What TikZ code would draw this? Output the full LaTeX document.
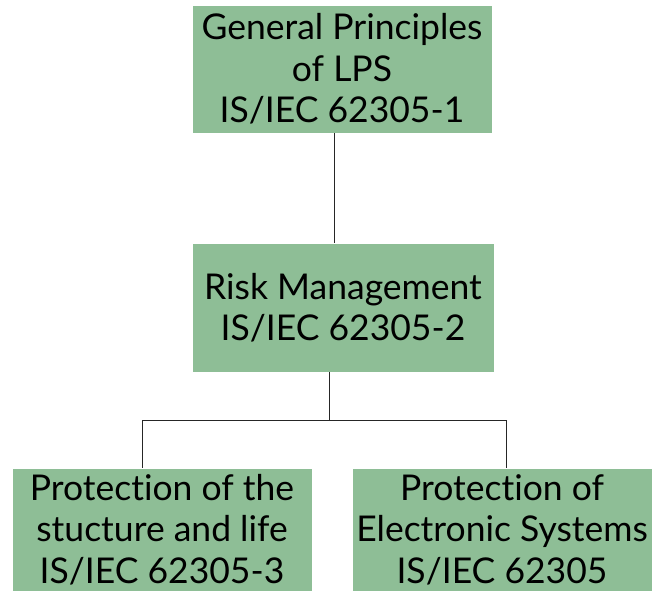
\documentclass[tikz,border=0pt]{standalone}
\usepackage{fontspec}
\setmainfont{Lato}[Ligatures=NoCommon]
\definecolor{lpsgreen}{RGB}{142,190,150}

\begin{document}
\begin{tikzpicture}[x=1pt, y=1pt,
    box/.style={fill=lpsgreen, draw=white, line width=0.6pt, align=center, inner sep=0pt,
        minimum width=300pt, minimum height=128pt, font=\fontsize{35.5}{41.5}\selectfont},
    link/.style={draw=black!85, line width=0.8pt}]
    \useasboundingbox (0,0) rectangle (659,-591);

    % standard boxes
    \node[box] (gp) at (342,-69) {General Principles\\of LPS\\IS/IEC 62305-1};
    \node[box, minimum width=302pt, minimum height=129pt] (rm) at (343,-307.5) {Risk Management\\IS/IEC 62305-2};
    \node[box, minimum height=123pt] (ps) at (162,-529.5) {Protection of the\\stucture and life\\IS/IEC 62305-3};
    \node[box, minimum height=123pt] (pe) at (502,-529.5) {Protection of\\Electronic Systems\\IS/IEC 62305};

    % branch points
    \coordinate (split) at (329,-420);
    \coordinate (jl) at (142,-420);
    \coordinate (jr) at (506,-420);

    % connectors
    \draw[link] ([xshift=-8pt]gp.south) -- ([xshift=-8pt]gp.south |- rm.north);
    \draw[link] (rm.south -| split) -- (split);
    \draw[link] (jl) -- (jr);
    \draw[link] (jl) -- (jl |- ps.north);
    \draw[link] (jr) -- (jr |- pe.north);
\end{tikzpicture}
\end{document}
